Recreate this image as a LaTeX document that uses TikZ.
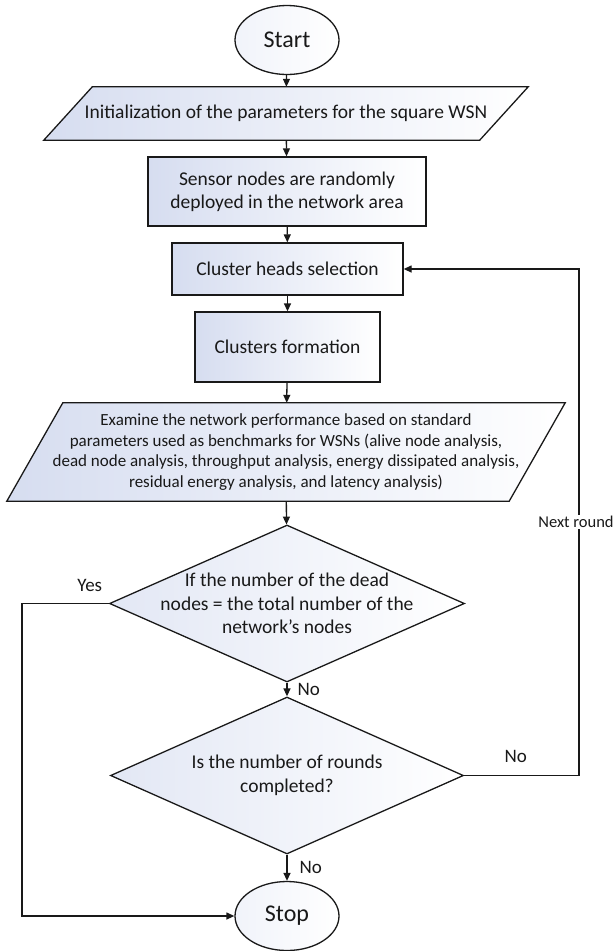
\documentclass[tikz,border=0pt]{standalone}
\usepackage{fontspec}
\setmainfont{Carlito}
\usetikzlibrary{shapes.geometric,arrows.meta,backgrounds}
\definecolor{fillc}{RGB}{214,221,240}
\definecolor{ink}{RGB}{25,25,25}
\begin{document}
\begin{tikzpicture}[x=1pt,y=1pt,
  every node/.style={text=ink},
  shapefill/.style={draw=ink, line width=1.3pt, left color=fillc, right color=white},
  base/.style={shapefill, align=center, inner sep=0pt},
  boxnode/.style={base, rectangle, font=\fontsize{19.5}{23}\selectfont},
  termnode/.style={base, ellipse, minimum width=104pt, minimum height=69pt, left color=fillc!35, font=\fontsize{24}{28}\selectfont},
  paratext/.style={rectangle, align=center, inner sep=0pt},
  dia/.style={base, diamond, left color=fillc!70},
  diatext/.style={align=center, font=\fontsize{19.5}{23.5}\selectfont},
  lbl/.style={font=\fontsize{19}{21}\selectfont, inner sep=2pt},
  arr/.style={draw=ink, line width=1.3pt, -{Triangle[length=8pt,width=7pt]}}
]
\useasboundingbox (0,0) rectangle (614,-951);

\node[termnode] (start) at (287,-40) {Start};
\node[paratext, minimum width=484pt, minimum height=53pt, font=\fontsize{19.5}{23}\selectfont]
      (init) at (286,-113.5) {Initialization of the parameters for the square WSN};
\node[boxnode, minimum width=278pt, minimum height=69pt] (sensor) at (287,-191.5)
      {Sensor nodes are randomly\\deployed in the network area};
\node[boxnode, minimum width=231pt, minimum height=52pt] (ch) at (287.5,-269)
      {Cluster heads selection};
\node[boxnode, minimum width=185pt, minimum height=70pt] (cf) at (287.5,-347)
      {Clusters formation};
\node[paratext, minimum width=558pt, minimum height=98pt, font=\fontsize{17}{20.5}\selectfont]
      (exam) at (286,-452)
      {Examine the network performance based on standard\\
       parameters used as benchmarks for WSNs (alive node analysis,\\
       dead node analysis, throughput analysis, energy dissipated analysis,\\
       residual energy analysis, and latency analysis)};
\begin{scope}[on background layer]
  \path[shapefill] ([xshift=48.5pt]init.north west) -- (init.north east)
     -- ([xshift=-48.5pt]init.south east) -- (init.south west) -- cycle;
  \path[shapefill] ([xshift=56pt]exam.north west) -- (exam.north east)
     -- ([xshift=-56pt]exam.south east) -- (exam.south west) -- cycle;
\end{scope}
\node[dia, minimum width=355pt, minimum height=157pt] (d1) at (287,-603.5) {};
\node[diatext] (d1t) at (d1.center) {If the number of the dead\\nodes = the total number of the\\network’s nodes};
\node[dia, minimum width=353pt, minimum height=157pt] (d2) at (287,-775.5) {};
\node[diatext] (d2t) at (d2.center) {Is the number of rounds\\completed?};
\node[termnode] (stop) at (287,-916) {Stop};

\coordinate (lx) at (22,-603.5);
\coordinate (rx) at (579,-775.5);

\draw[arr] (start) -- (init);
\draw[arr] (init) -- (sensor);
\draw[arr] (sensor) -- (ch);
\draw[arr] (ch) -- (cf);
\draw[arr] (cf) -- (exam);
\draw[arr] (exam) -- (d1);
\draw[arr] (d1.south) -- node[lbl, right, pos=0.5, xshift=8pt] (no1) {No} (d2.north);
\draw[arr] (d2.south) -- node[lbl, right, pos=0.5, xshift=10pt] (no3) {No} (stop.north);
\draw[arr] (d1.west) -- node[lbl, above, pos=0.22, yshift=9pt] (yes) {Yes} (lx) |- (stop.west);
\draw[arr] (d2.east) -- node[lbl, above, pos=0.45, yshift=10pt] (no2) {No} (rx) |- node[pos=0.25, fill=white, inner sep=1pt, xshift=-3pt, font=\fontsize{16.5}{19}\selectfont] (nr) {Next round} (ch.east);
\end{tikzpicture}
\end{document}
